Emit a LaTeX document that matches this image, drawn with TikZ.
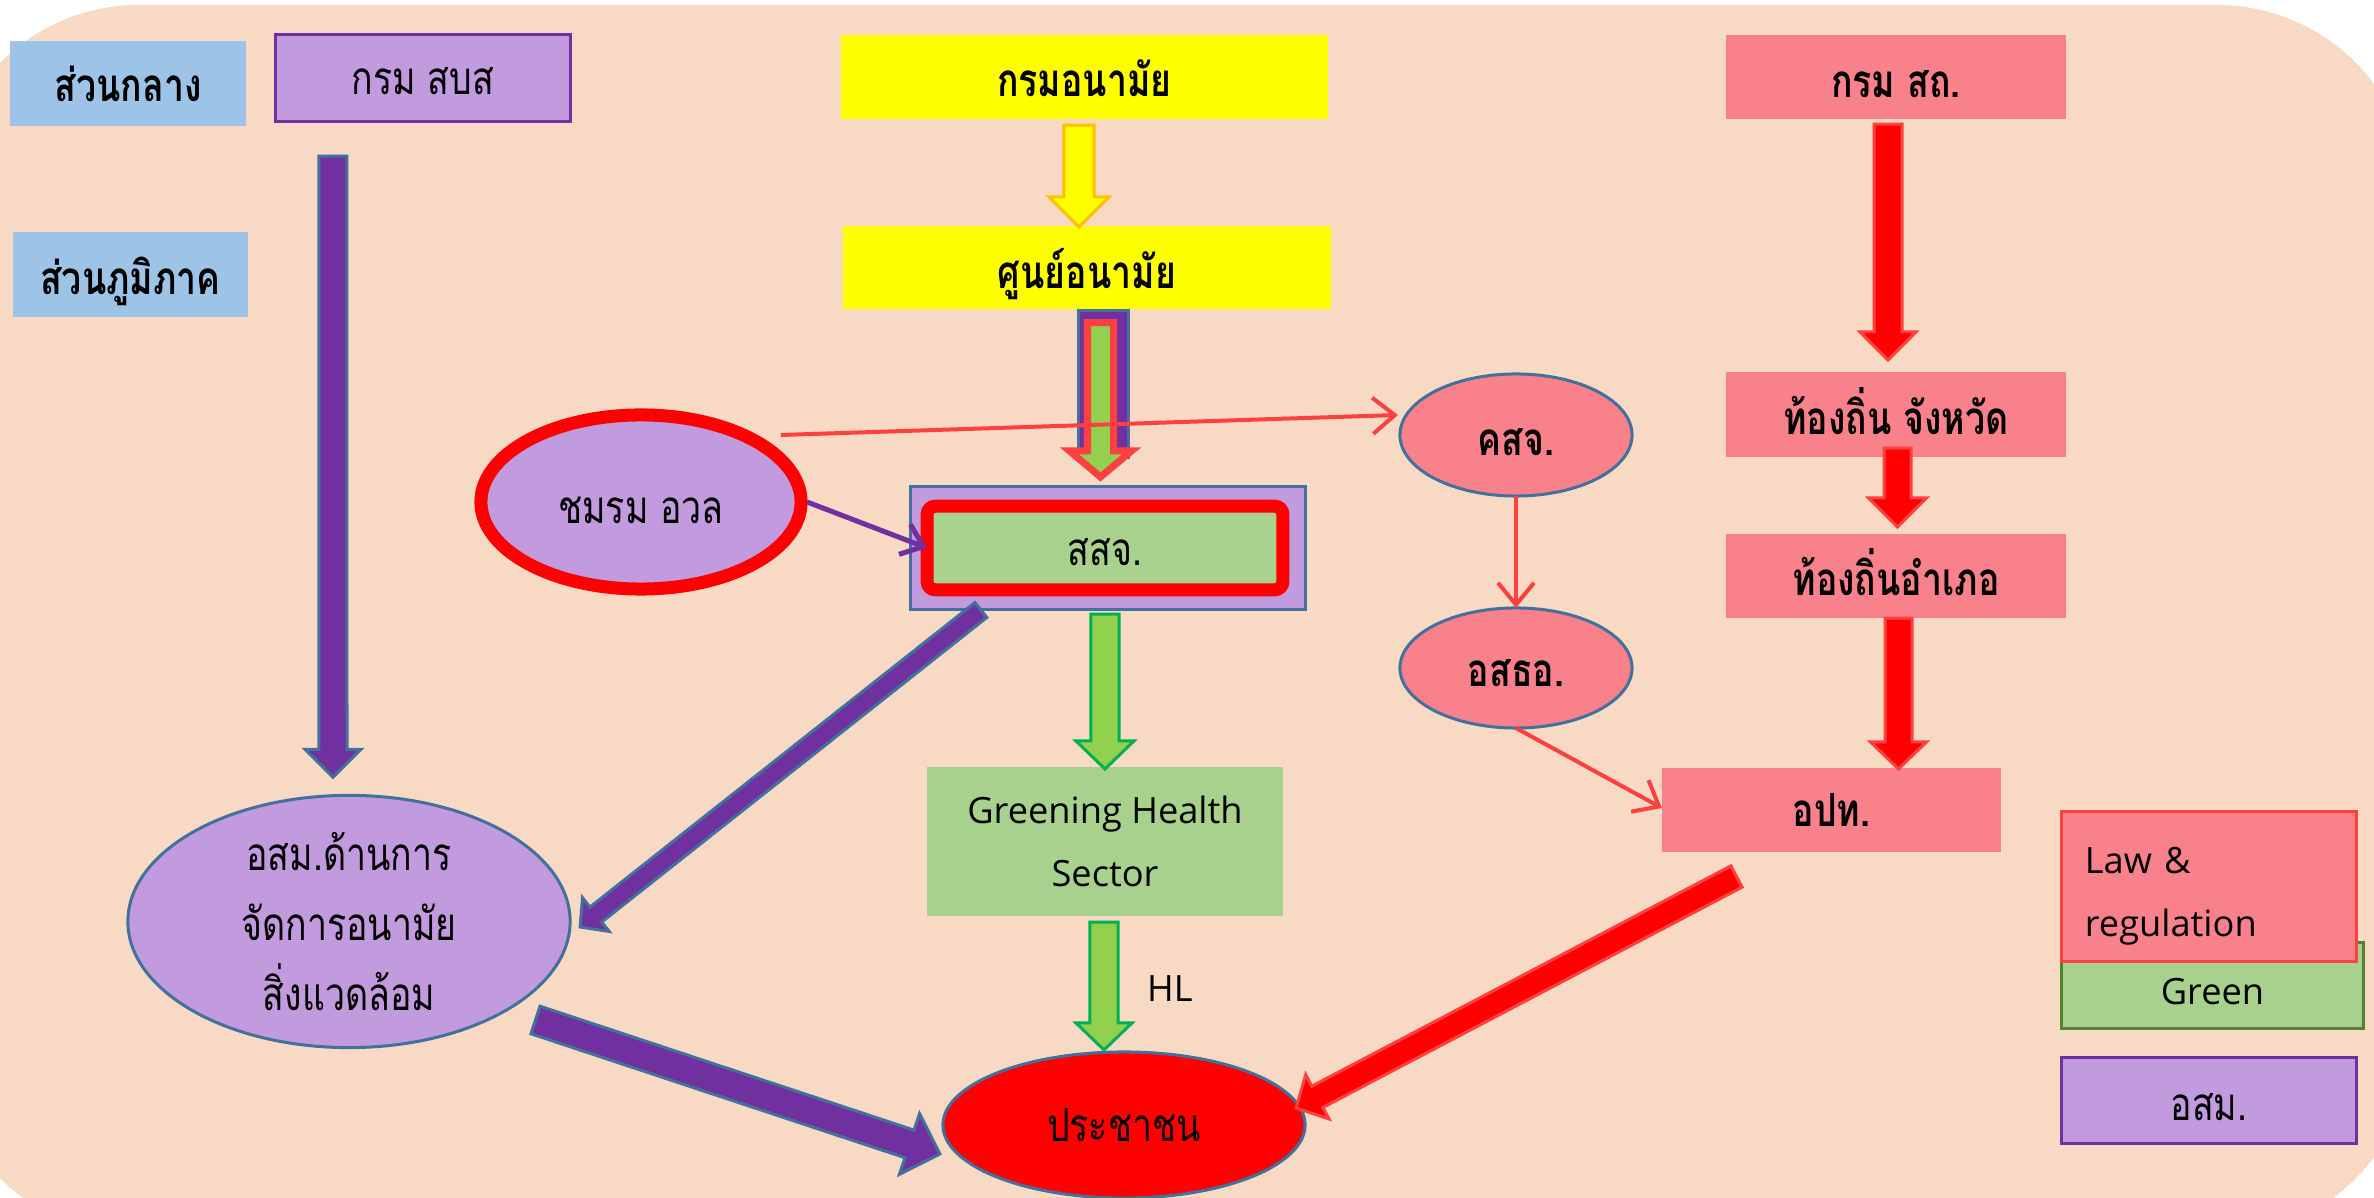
\documentclass[tikz,border=0pt]{standalone}
\usepackage{fontspec}
\usetikzlibrary{calc,arrows.meta,shapes.geometric}
\newfontfamily\thaifont[Script=Thai, FakeStretch=0.78]{Loma}
\newfontfamily\latfont{Open Sans}
\newcommand\thr{\fontsize{13}{19.9}\thaifont}
\newcommand\thb{\fontsize{13}{19.9}\thaifont\bfseries}
\newcommand\latr{\fontsize{10.3}{17.9}\latfont}
\definecolor{bgpeach}{HTML}{F8D9C4}
\definecolor{lblue}{HTML}{9DC3E6}
\definecolor{lpurple}{HTML}{C29ADE}
\definecolor{dpurple}{HTML}{7030A0}
\definecolor{bgray}{HTML}{41719C}
\definecolor{cpink}{HTML}{F8818B}
\definecolor{cyellow}{HTML}{FFFF00}
\definecolor{corange}{HTML}{FFC000}
\definecolor{cred}{HTML}{FF0000}
\definecolor{cred2}{HTML}{FF4040}
\definecolor{cgreenbox}{HTML}{A9D18E}
\definecolor{cgreenarr}{HTML}{92D050}
\definecolor{cgreenline}{HTML}{00B050}
\definecolor{cgreendark}{HTML}{538135}
% block arrow: #1 style, #2 start, #3 tip, #4 shaft width, #5 head width, #6 head length (px)
\newcommand\blockarrow[6]{%
  \pgfmathsetmacro\bahw{#4*0.1422638}%
  \pgfmathsetmacro\bahh{#5*0.1422638}%
  \pgfmathsetmacro\bahl{#6*0.2845276}%
  \coordinate (bas) at #2;%
  \coordinate (bae) at #3;%
  \coordinate (bah) at ($(bae)!\bahl pt!(bas)$);%
  \draw[#1] ($(bas)!\bahw pt!90:(bae)$) -- ($(bah)!\bahw pt!90:(bae)$)
    -- ($(bah)!\bahh pt!90:(bae)$) -- (bae) -- ($(bah)!\bahh pt!-90:(bae)$)
    -- ($(bah)!\bahw pt!-90:(bae)$) -- ($(bas)!\bahw pt!-90:(bae)$) -- cycle;%
}
\tikzset{
  every node/.style={inner sep=0pt, outer sep=0pt},
  thailine/.style={text height=#1, text depth=0cm},
  thailine/.default=0.40cm,
  bluebox/.style={rectangle, fill=lblue, font=\thb, thailine},
  yelbox/.style={rectangle, fill=cyellow, font=\thb, thailine},
  pinkbox/.style={rectangle, fill=cpink, font=\thb, thailine},
  purpbox/.style={rectangle, fill=lpurple, draw=dpurple, line width=0.03cm, font=\thr, thailine},
  pinkell/.style={ellipse, fill=cpink, draw=bgray, line width=0.03cm, font=\thb},
  purpell/.style={ellipse, fill=lpurple, draw=bgray, line width=0.03cm, font=\thr},
  parr/.style={fill=dpurple, draw=bgray, line width=0.03cm, line join=miter},
  yarr/.style={fill=cyellow, draw=corange, line width=0.03cm, line join=miter},
  rarr/.style={fill=cred, draw=cred2, line width=0.03cm, line join=miter},
  garr/.style={fill=cgreenarr, draw=cgreenline, line width=0.03cm, line join=miter},
  comboarr/.style={fill=cgreenarr, draw=cred2, line width=0.07cm, line join=miter},
  thinred/.style={draw=cred2, line width=0.04cm, -{Straight Barb[length=0.22cm,width=0.36cm]}},
  thinpurp/.style={draw=dpurple, line width=0.05cm, -{Straight Barb[length=0.2cm,width=0.32cm]}},
}
\begin{document}
\begin{tikzpicture}[x=0.01cm,y=-0.01cm]
\useasboundingbox (0,0) rectangle (2374,1198);
\begin{scope}
\clip (0,0) rectangle (2374,1198);
\fill[white] (0,0) rectangle (2374,1198);
\fill[bgpeach, rounded corners=1.96cm] (-57,5) rectangle (2413,1236);
\end{scope}

% left column
\node[bluebox, thailine=0.37cm, minimum width=2.36cm, minimum height=0.85cm] (central) at (128,83.5) {ส่วนกลาง};
\node[bluebox, minimum width=2.35cm, minimum height=0.85cm] (regional) at (130.5,274.5) {ส่วนภูมิภาค};
\node[purpbox, thailine=0.34cm, minimum width=2.94cm, minimum height=0.86cm] (sbs) at (423,78) {กรม สบส};
\node[purpell, minimum width=4.42cm, minimum height=2.49cm, align=center] (osm) at (349,921.5) {อสม.ด้านการ\\จัดการอนามัย\\สิ่งแวดล้อม};
\node[purpell, thailine=0.43cm, draw=cred, line width=0.13cm, minimum width=3.20cm, minimum height=1.74cm] (club) at (641,502) {ชมรม อวล};

% centre column
\node[yelbox, minimum width=4.87cm, minimum height=0.84cm] (anamai) at (1084.5,77) {กรมอนามัย};
\node[yelbox, thailine=0.43cm, minimum width=4.88cm, minimum height=0.83cm] (sunya) at (1087,267.5) {ศูนย์อนามัย};
\node[rectangle, fill=lpurple, draw=bgray, line width=0.03cm, minimum width=3.94cm, minimum height=1.22cm] (ssj) at (1108,548) {};
\node[rectangle, fill=cgreenbox, draw=cred, line width=0.13cm, rounded corners=0.08cm, minimum width=3.555cm, minimum height=0.835cm, font=\thr, thailine=0.35cm] (ssjin) at (1105,548) {สสจ.};
\node[rectangle, fill=cgreenbox, minimum width=3.56cm, minimum height=1.49cm, font=\latr, align=center] (green) at (1105,841.5) {Greening Health\\Sector};
\node[ellipse, fill=cred, draw=bgray, line width=0.03cm, minimum width=3.62cm, minimum height=1.46cm, font=\thr, thailine=0.33cm] (people) at (1124,1125) {ประชาชน};
\node[font=\latr] (hl) at (1170,989) {HL};

% right part
\node[pinkell, thailine=0.40cm, minimum width=2.32cm, minimum height=1.22cm] (ksj) at (1516,435) {คสจ.};
\node[pinkell, thailine=0.37cm, minimum width=2.32cm, minimum height=1.20cm] (asto) at (1516,668) {อสธอ.};
\node[pinkbox, thailine=0.41cm, minimum width=3.40cm, minimum height=0.84cm] (sathor) at (1896,77) {กรม สถ.};
\node[pinkbox, minimum width=3.40cm, minimum height=0.85cm] (tjw) at (1896,414.5) {ท้องถิ่น จังหวัด};
\node[pinkbox, minimum width=3.40cm, minimum height=0.84cm] (tam) at (1896,576) {ท้องถิ่นอำเภอ};
\node[pinkbox, thailine=0.34cm, minimum width=3.39cm, minimum height=0.84cm] (opt) at (1831.5,810) {อปท.};

% legend
\node[rectangle, fill=cgreenbox, draw=cgreendark, line width=0.03cm, minimum width=3.01cm, minimum height=0.85cm, font=\latr] (lgreen) at (2212.5,985.5) {\raisebox{-5.4pt}[0pt][0pt]{Green}};
\node[rectangle, fill=cpink, draw=cred2, line width=0.03cm, minimum width=2.94cm, minimum height=1.49cm, inner xsep=0.23cm, text width=2.48cm, align=left, font=\latr] (llaw) at (2209,886.5) {\rule{0pt}{0.45cm}Law \&\\regulation};
\node[purpbox, minimum width=2.94cm, minimum height=0.85cm] (losm) at (2209,1100.5) {อสม.};

% block arrows
\blockarrow{parr}{($(sbs.south west)+(57,35)$)}{($(osm.north)+(-16,-18)$)}{28}{56}{28}
\blockarrow{yarr}{($(anamai.south)+(-5.5,6)$)}{($(sunya.north)+(-8,1)$)}{30}{60}{30}
\draw[parr] ($(sunya.south)+(-9,1)$) rectangle ($(ssj.north)+(20,-29)$);
\blockarrow{comboarr}{($(sunya.south)+(13.5,13.5)$)}{($(ssj.north)+(-7.5,-10)$)}{26}{62}{26}
\blockarrow{garr}{($(ssj.south)+(-3,5)$)}{($(green.north)+(0,2)$)}{28}{58}{28}
\blockarrow{garr}{($(green.south)+(-1,6)$)}{($(people.north)+(-20,-2)$)}{28}{56}{27}
\blockarrow{parr}{($(ssj.south west)+(70,1)$)}{($(osm.east)+(10,5.5)$)}{19}{43}{20}
\blockarrow{parr}{($(osm.center)+(186.5,98.5)$)}{($(people.west)+(-3,29)$)}{29}{64}{32}
\blockarrow{rarr}{($(opt.south)+(-95,24.5)$)}{($(people.east)+(-9,-17)$)}{24}{50}{24}
\blockarrow{rarr}{($(sathor.south)+(-8,5)$)}{($(tjw.north)+(-8,-12)$)}{28}{56}{28}
\blockarrow{rarr}{($(tjw.south)+(1.5,-9)$)}{($(tam.north)+(1.5,-7)$)}{27}{58}{29}
\blockarrow{rarr}{($(tam.south)+(2.5,0)$)}{($(opt.north)+(67,1)$)}{27}{56}{27}

% thin connectors
\draw[thinpurp] ($(club.east)+(6,0)$) -- (ssjin.west);
\draw[thinred] ($(club.center)+(140,-67)$) -- ($(ksj.west)+(-2,-20)$);
\draw[thinred] (ksj.south) -- (asto.north);
\draw[thinred] (asto.south) -- ($(opt.west)+(0,-2)$);
\end{tikzpicture}
\end{document}
